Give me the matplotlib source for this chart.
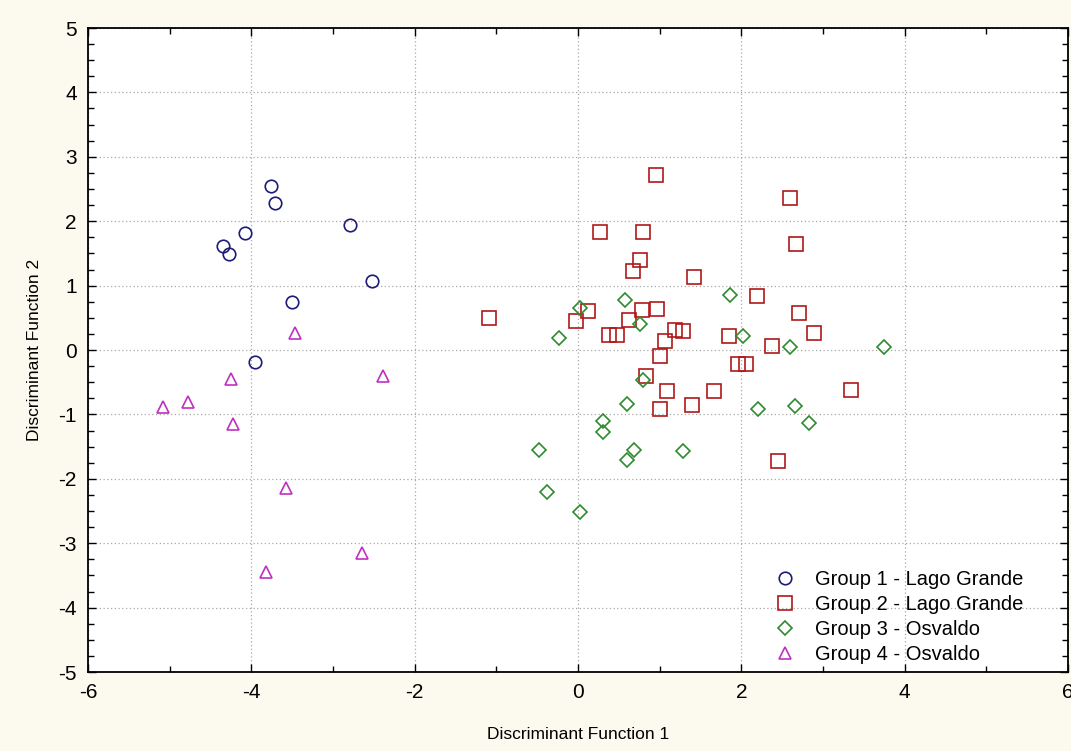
import matplotlib
matplotlib.use("Agg")
import matplotlib.pyplot as plt
from matplotlib.ticker import MultipleLocator
from matplotlib import font_manager

# ---- data ----
g1_x = [-3.76, -3.71, -4.08, -4.35, -4.27, -2.79, -2.52, -3.50, -3.95]
g1_y = [2.55, 2.28, 1.82, 1.61, 1.49, 1.94, 1.07, 0.75, -0.19]

g2_x = [0.95, 0.27, 0.80, 0.76, 0.67, 1.42, 2.19, -1.09, 0.12, -0.02, 0.78, 0.97,
        0.63, 0.38, 0.48, 1.19, 1.28, 1.06, 1.85, 1.01, 1.96, 2.06, 0.83, 1.09,
        1.66, 2.60, 2.67, 2.70, 2.89, 2.38, 3.34, 1.01, 1.40, 2.45]
g2_y = [2.72, 1.83, 1.83, 1.40, 1.23, 1.13, 0.84, 0.49, 0.60, 0.45, 0.62, 0.64,
        0.47, 0.24, 0.24, 0.31, 0.29, 0.14, 0.22, -0.09, -0.21, -0.21, -0.41, -0.64,
        -0.64, 2.36, 1.65, 0.57, 0.26, 0.06, -0.62, -0.92, -0.86, -1.72]

g3_x = [0.02, 0.58, 0.76, -0.23, 1.86, 2.02, 0.80, 2.60, 3.75, 0.60, 2.21, 0.31,
        0.31, -0.48, 0.69, 0.60, 1.29, -0.38, 0.03, 2.66, 2.83]
g3_y = [0.65, 0.77, 0.41, 0.19, 0.85, 0.22, -0.47, 0.04, 0.04, -0.84, -0.92, -1.11,
        -1.28, -1.55, -1.55, -1.71, -1.57, -2.21, -2.51, -0.87, -1.13]

g4_x = [-3.46, -4.25, -2.39, -5.08, -4.77, -4.23, -3.57, -2.64, -3.82]
g4_y = [0.26, -0.45, -0.40, -0.88, -0.80, -1.15, -2.14, -3.15, -3.45]

labels = ["Group 1 - Lago Grande", "Group 2 - Lago Grande",
          "Group 3 - Osvaldo", "Group 4 - Osvaldo"]
x_label = "Discriminant Function 1"
y_label = "Discriminant Function 2"

# ---- fonts ----
avail = {f.name for f in font_manager.fontManager.ttflist}
narrow = "Liberation Sans Narrow" if "Liberation Sans Narrow" in avail else "Liberation Sans"
plt.rcParams['font.family'] = [narrow, 'DejaVu Sans']
plt.rcParams['axes.unicode_minus'] = False

bg = "#fcfaee"
fig = plt.figure(figsize=(10.71, 7.51), dpi=100, facecolor=bg)
ax = fig.add_axes([88/1071, 1-672/751, 980/1071, 644/751])
ax.set_facecolor("white")

ms = 9
lw = 1.2
ax.plot(g1_x, g1_y, linestyle='none', marker='o', ms=ms, mfc='none', mec='#1c1c78', mew=lw, label=labels[0])
ax.plot(g2_x, g2_y, linestyle='none', marker='s', ms=ms+1, mfc='none', mec='#b01818', mew=lw, label=labels[1])
ax.plot(g3_x, g3_y, linestyle='none', marker='D', ms=ms-2, mfc='none', mec='#2f8a2f', mew=lw, label=labels[2])
ax.plot(g4_x, g4_y, linestyle='none', marker='^', ms=ms, mfc='none', mec='#c030c0', mew=lw, label=labels[3])

ax.set_xlim(-6, 6)
ax.set_ylim(-5, 5)
ax.xaxis.set_major_locator(MultipleLocator(2))
ax.xaxis.set_minor_locator(MultipleLocator(1))
ax.yaxis.set_major_locator(MultipleLocator(1))
ax.yaxis.set_minor_locator(MultipleLocator(0.25))
ax.tick_params(which='both', direction='in', top=True, right=True, color='black')
ax.tick_params(which='major', length=6, width=1, labelsize=15, pad=8)
ax.tick_params(which='minor', length=4, width=1)
ax.grid(True, which='major', linestyle=(0, (1, 2)), color='#a8a8a8', linewidth=0.9)
for s in ax.spines.values():
    s.set_linewidth(1.3)
    s.set_color('black')

ax.set_xlabel(x_label, fontsize=12.5, labelpad=18)
ax.set_ylabel(y_label, fontsize=12.5, labelpad=12)

leg = ax.legend(loc='upper left', bbox_to_anchor=((765-88)/980, (672-562)/644),
                frameon=False, fontsize=14.5, handletextpad=0.9, labelspacing=0.3,
                borderaxespad=0, handlelength=1.2)

fig.savefig("out.png", dpi=100, facecolor=bg)
